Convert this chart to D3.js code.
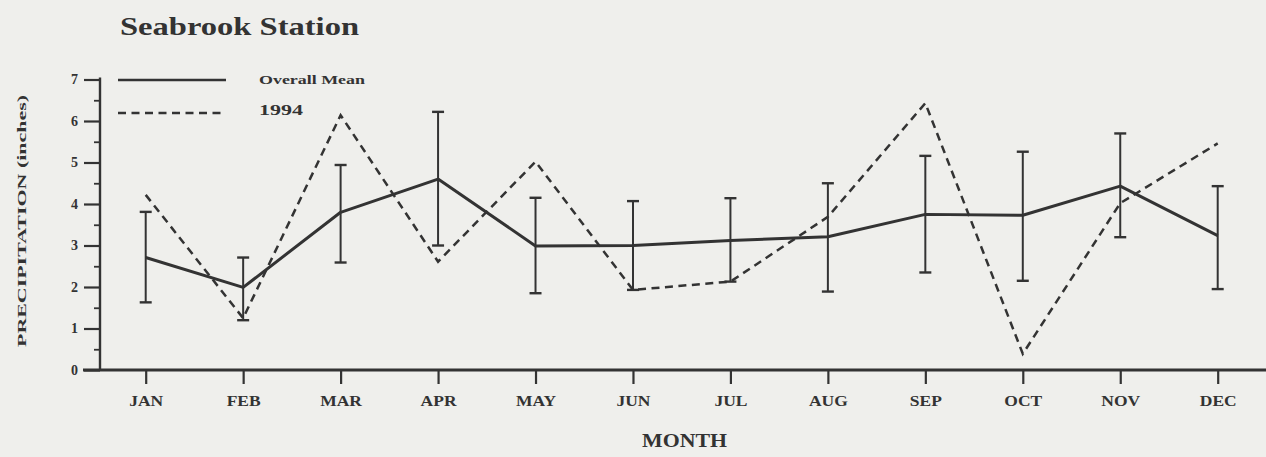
<!DOCTYPE html>
<html><head><meta charset="utf-8">
<script src="https://cdn.jsdelivr.net/npm/d3@7"></script>
<style>
html,body{margin:0;padding:0;background:#efefec;}
svg{display:block;}
text{font-family:"Liberation Serif","Times New Roman",Times,serif;fill:#333;}
</style></head>
<body>
<svg id="chart" width="1266" height="457"></svg>
<script>
const months = ["JAN","FEB","MAR","APR","MAY","JUN","JUL","AUG","SEP","OCT","NOV","DEC"];
const overallMean = [2.71,1.99,3.80,4.60,2.99,3.00,3.12,3.21,3.75,3.73,4.43,3.24];
const meanUpper   = [3.81,2.71,4.94,6.22,4.15,4.07,4.14,4.50,5.16,5.26,5.70,4.43];
const meanLower   = [1.63,1.20,2.59,3.00,1.85,1.93,2.13,1.89,2.35,2.15,3.20,1.95];
const year1994    = [4.22,1.25,6.14,2.61,5.02,1.93,2.13,3.69,6.43,0.39,4.02,5.46];
const yTicks = [0,1,2,3,4,5,6,7];
const yMinorTicks = [0.5,1.5,2.5,3.5,4.5,5.5,6.5];
const titleText = "Seabrook Station";
const xTitle = "MONTH";
const yTitle = "PRECIPITATION (inches)";
const legendLabels = ["Overall Mean","1994"];

const ink = "#333333";
const svg = d3.select("#chart");
svg.append("rect").attr("width",1266).attr("height",457).attr("fill","#efefec");

const x = d3.scalePoint().domain(months).range([145.7,1217.7]);
const y = d3.scaleLinear().domain([0,7]).range([370,79.5]);

// Title
svg.append("text").attr("x",120).attr("y",35)
  .attr("font-size",25).attr("font-weight","bold")
  .attr("textLength",239).attr("lengthAdjust","spacingAndGlyphs")
  .text(titleText);

// Y axis (major)
const yAxis = svg.append("g").attr("transform","translate(100,0)")
  .call(d3.axisLeft(y).tickValues(yTicks).tickSize(16).tickPadding(6).tickFormat(d3.format("d")));
yAxis.select(".domain").remove();
yAxis.selectAll(".tick line").attr("stroke",ink).attr("stroke-width",2.2);
yAxis.selectAll(".tick text").style("font-size","14px").style("font-weight","bold").attr("fill",ink);
// minor ticks
const yMinor = svg.append("g").attr("transform","translate(100,0)")
  .call(d3.axisLeft(y).tickValues(yMinorTicks).tickSize(6).tickFormat(""));
yMinor.select(".domain").remove();
yMinor.selectAll(".tick line").attr("stroke",ink).attr("stroke-width",1.8);
// y axis line
svg.append("line").attr("x1",100).attr("x2",100).attr("y1",y(7)-2).attr("y2",y(0))
  .attr("stroke",ink).attr("stroke-width",2.4);

// X axis
const xAxis = svg.append("g").attr("transform","translate(0,370)")
  .call(d3.axisBottom(x).tickSize(14).tickPadding(0));
xAxis.select(".domain").remove();
xAxis.selectAll(".tick line").attr("stroke",ink).attr("stroke-width",2.2);
xAxis.selectAll(".tick text").attr("y",36).attr("dy",0)
  .style("font-size","14px").style("font-weight","bold")
  .attr("fill",ink).attr("transform","scale(1.25,1)");
svg.append("line").attr("x1",83).attr("x2",1266).attr("y1",370).attr("y2",370)
  .attr("stroke",ink).attr("stroke-width",2.8);

// Axis titles
svg.append("text").attr("x",684.5).attr("y",447)
  .attr("text-anchor","middle").attr("font-size",18).attr("font-weight","bold")
  .attr("textLength",85).attr("lengthAdjust","spacingAndGlyphs").text(xTitle);
svg.append("text").attr("transform","translate(26,221) rotate(-90)")
  .attr("text-anchor","middle").attr("font-size",13).attr("font-weight","bold")
  .attr("textLength",252).attr("lengthAdjust","spacingAndGlyphs").text(yTitle);

// Error bars
const eb = svg.append("g");
months.forEach((m,i)=>{
  const cx = x(m);
  eb.append("line").attr("x1",cx).attr("x2",cx).attr("y1",y(meanUpper[i])).attr("y2",y(meanLower[i]))
    .attr("stroke",ink).attr("stroke-width",2);
  [meanUpper[i],meanLower[i]].forEach(v=>{
    eb.append("line").attr("x1",cx-6).attr("x2",cx+6).attr("y1",y(v)).attr("y2",y(v))
      .attr("stroke",ink).attr("stroke-width",2.4);
  });
});

const line = d3.line().x((d,i)=>x(months[i])).y(d=>y(d));
// 1994 dashed
svg.append("path").datum(year1994).attr("d",line).attr("fill","none")
  .attr("stroke",ink).attr("stroke-width",2.5).attr("stroke-dasharray","8,5.5");
// Overall mean
svg.append("path").datum(overallMean).attr("d",line).attr("fill","none")
  .attr("stroke",ink).attr("stroke-width",3).attr("stroke-linejoin","round");

// Legend
svg.append("line").attr("x1",118).attr("x2",226).attr("y1",80).attr("y2",80)
  .attr("stroke",ink).attr("stroke-width",2.6);
svg.append("line").attr("x1",118).attr("x2",222).attr("y1",113).attr("y2",113)
  .attr("stroke",ink).attr("stroke-width",2.5).attr("stroke-dasharray","8,5.5");
svg.append("text").attr("x",259).attr("y",84).attr("font-size",12.5).attr("font-weight","bold")
  .attr("textLength",106).attr("lengthAdjust","spacingAndGlyphs").text(legendLabels[0]);
svg.append("text").attr("x",259).attr("y",115).attr("font-size",14).attr("font-weight","bold")
  .attr("textLength",44).attr("lengthAdjust","spacingAndGlyphs").text(legendLabels[1]);
</script>
</body></html>
